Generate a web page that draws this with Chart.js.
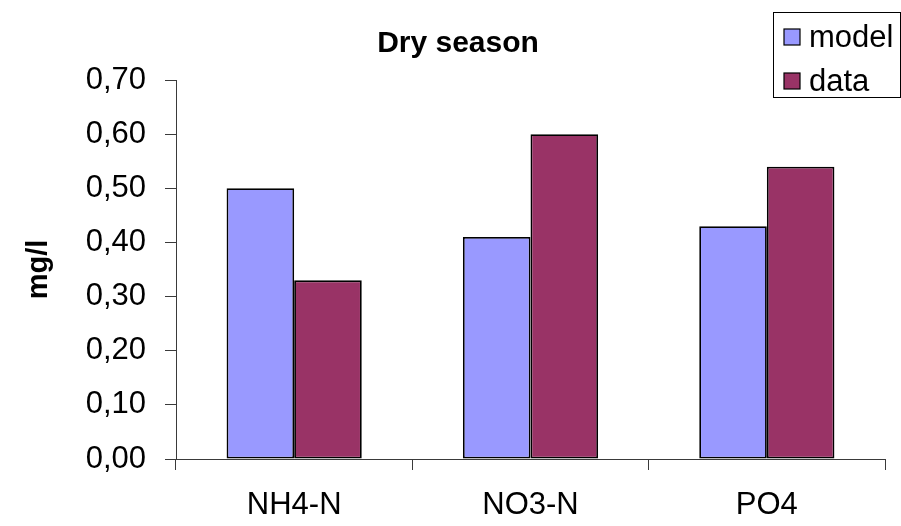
<!DOCTYPE html>
<html>
<head>
<meta charset="utf-8">
<script src="https://cdn.jsdelivr.net/npm/chart.js@4/dist/chart.umd.min.js"></script>
<style>
  html, body { margin: 0; padding: 0; background: #ffffff; }
  #wrap { width: 901px; height: 526px; }
</style>
</head>
<body>
<div id="wrap"><canvas id="c" width="901" height="526"></canvas></div>
<script>
// Nutrient concentrations, dry season (mg/l)
const categories = ['NH4-N', 'NO3-N', 'PO4'];
const modelValues = [0.50, 0.41, 0.43];
const dataValues = [0.33, 0.60, 0.54];
const yTickLabels = ['0,00', '0,10', '0,20', '0,30', '0,40', '0,50', '0,60', '0,70'];
const seriesNames = ['model', 'data'];
const seriesColors = ['#9999FF', '#993366'];
const chartTitle = 'Dry season';
const yAxisTitle = 'mg/l';

const FONT = "'Liberation Sans', Arial, sans-serif";
const AXIS_COLOR = '#3a3a3a';

// Title and boxed legend, painted on top of the canvas
const decorations = {
  id: 'decorations',
  afterDraw(chart) {
    const ctx = chart.ctx;
    ctx.save();
    ctx.fillStyle = '#000';
    ctx.font = 'bold 30px ' + FONT;
    ctx.textAlign = 'center';
    ctx.textBaseline = 'middle';
    ctx.fillText(chartTitle, 458, 44);

    // legend frame
    ctx.strokeStyle = '#000';
    ctx.lineWidth = 1;
    ctx.strokeRect(773.5, 12.5, 127, 85);

    ctx.font = '31px ' + FONT;
    ctx.textAlign = 'left';
    chart.data.datasets.forEach((ds, i) => {
      const cy = 37 + i * 44;
      ctx.fillStyle = ds.backgroundColor;
      ctx.fillRect(784, cy - 8, 16, 16);
      ctx.strokeStyle = '#000';
      ctx.lineWidth = 1.2;
      ctx.strokeRect(784, cy - 8, 16, 16);
      ctx.fillStyle = '#000';
      ctx.fillText(ds.label, 809, cy + 1);
    });
    ctx.restore();
  }
};

new Chart(document.getElementById('c'), {
  type: 'bar',
  data: {
    labels: categories,
    datasets: [
      {
        label: seriesNames[0],
        data: modelValues,
        backgroundColor: seriesColors[0],
        borderColor: '#000',
        borderWidth: 1.8,
        borderSkipped: false
      },
      {
        label: seriesNames[1],
        data: dataValues,
        backgroundColor: seriesColors[1],
        borderColor: '#000',
        borderWidth: 1.8,
        borderSkipped: false
      }
    ]
  },
  options: {
    responsive: false,
    animation: false,
    devicePixelRatio: 1,
    layout: { padding: { top: 80, right: 16, bottom: 0, left: 0 } },
    datasets: { bar: { categoryPercentage: 0.572, barPercentage: 1.0 } },
    plugins: {
      legend: { display: false },
      title: { display: false },
      tooltip: { enabled: false }
    },
    scales: {
      x: {
        offset: true,
        grid: {
          offset: true,
          drawOnChartArea: false,
          drawTicks: true,
          tickLength: 11,
          color: AXIS_COLOR,
          lineWidth: 1
        },
        border: { color: AXIS_COLOR, width: 1 },
        ticks: {
          color: '#000',
          font: { family: FONT, size: 31 },
          padding: 17,
          maxRotation: 0,
          autoSkip: false
        },
        afterFit(scale) { scale.height = 67; }
      },
      y: {
        min: 0,
        max: 0.7,
        grid: {
          drawOnChartArea: false,
          drawTicks: true,
          tickLength: 11,
          color: AXIS_COLOR,
          lineWidth: 1
        },
        border: { color: AXIS_COLOR, width: 1 },
        ticks: {
          stepSize: 0.1,
          color: '#000',
          font: { family: FONT, size: 31 },
          padding: 19,
          callback(value, index) { return yTickLabels[index]; }
        },
        title: {
          display: true,
          text: yAxisTitle,
          color: '#000',
          font: { family: FONT, size: 29, weight: 'bold' },
          padding: { top: 22, bottom: 0 }
        },
        afterFit(scale) { scale.width = 176; }
      }
    }
  },
  plugins: [decorations]
});
</script>
</body>
</html>
